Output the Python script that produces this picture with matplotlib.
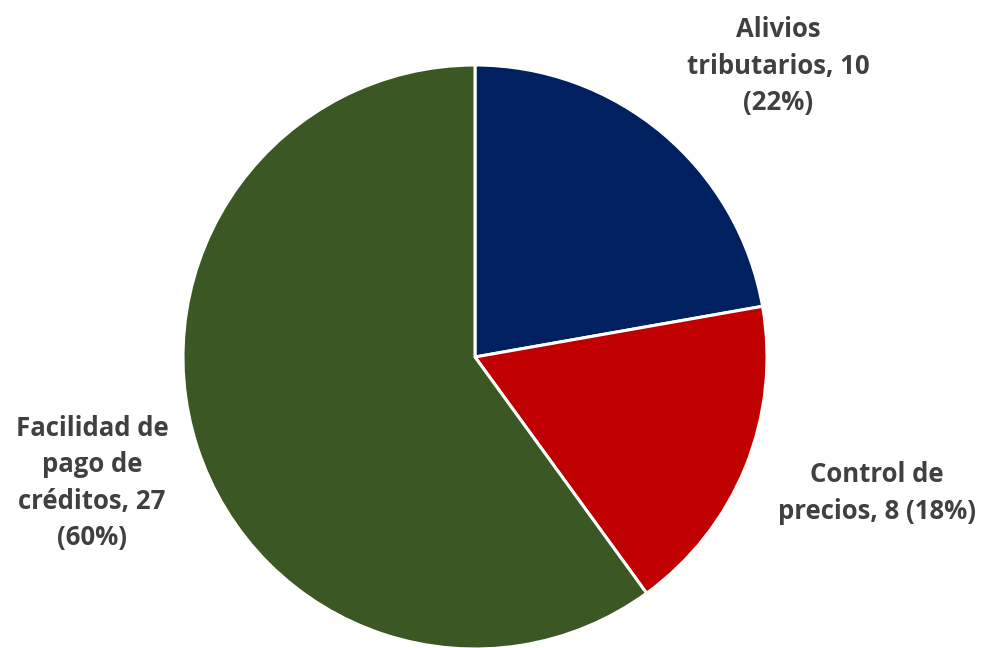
import matplotlib.pyplot as plt

categories = ["Alivios\ntributarios", "Control de\nprecios", "Facilidad de\npago de\ncréditos"]
values = [10, 8, 27]
colors = ["#002060", "#C00000", "#3A5724"]

total = sum(values)
pcts = [round(v / total * 100) for v in values]
# Excel wrapped each label its own way
labels = [
    f"Alivios\ntributarios, {values[0]}\n({pcts[0]}%)",
    f"Control de\nprecios, {values[1]} ({pcts[1]}%)",
    f"Facilidad de\npago de\ncréditos, {values[2]}\n({pcts[2]}%)",
]

fig = plt.figure(figsize=(9.87, 6.48), dpi=100)
ax = fig.add_axes([0, 0, 1, 1])

ax.pie(values, colors=colors, startangle=90, counterclock=False,
       center=(475, 648 - 357), radius=292,
       wedgeprops=dict(edgecolor="white", linewidth=2.2))

ax.set_xlim(0, 987)
ax.set_ylim(0, 648)
ax.set_aspect("equal")
ax.axis("off")

label_pos = [(778, 648 - 66), (877, 648 - 493), (92, 648 - 483)]
for (x, y), txt in zip(label_pos, labels):
    ax.text(x, y, txt, ha="center", va="center", fontsize=18.5,
            fontweight="bold", color="#404040", family="Open Sans",
            linespacing=1.45)

fig.savefig("out.png", dpi=100)
